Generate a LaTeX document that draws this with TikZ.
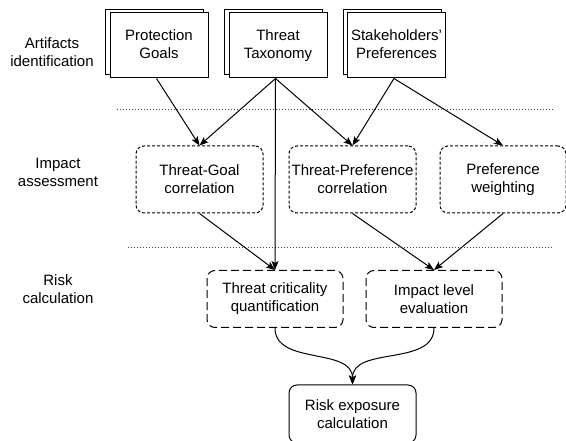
\documentclass[tikz,border=0pt]{standalone}
\usepackage{fontspec}
\setmainfont{Liberation Sans}
\usetikzlibrary{arrows.meta}
\newcommand{\doctext}[2]{\raisebox{6pt}{\begin{tabular}{@{}c@{}}#1\\#2\end{tabular}}}
\begin{document}
\begin{tikzpicture}[x=1pt,y=-1pt,
  every node/.style={font=\fontsize{15}{18}\selectfont, align=center, inner sep=0pt},
  docbox/.style={draw, fill=white, line width=1pt, minimum width=98pt, minimum height=65pt},
  midbox/.style={draw, line width=1pt, rounded corners=8pt, dash pattern=on 3pt off 2pt, minimum width=127pt, minimum height=67pt},
  lowbox/.style={draw, line width=1pt, rounded corners=8pt, dash pattern=on 8pt off 4pt, minimum width=136pt, minimum height=57pt},
  endbox/.style={draw, line width=1pt, rounded corners=8pt, minimum width=127pt, minimum height=58pt},
  sheet/.style={draw, fill=white, line width=1pt},
  sep/.style={black!75, line width=0.8pt, dash pattern=on 1pt off 2pt},
  conn/.style={line width=1pt, -{Stealth[length=9pt,width=7pt,inset=2pt]}},
  lbl/.style={}
]
\useasboundingbox (0,0) rectangle (566,441);
\clip (0,0) rectangle (566,441);

% left labels
\node[lbl] (l1) at (52,52) {Artifacts\\identification};
\node[lbl] (l2) at (58,172.5) {Impact\\assessment};
\node[lbl] (l3) at (58,289) {Risk\\calculation};

% separators
\coordinate (s1a) at (117,109);
\coordinate (s1b) at (553,109);
\coordinate (s2a) at (128,247);
\coordinate (s2b) at (553,247);
\draw[sep] (s1a) -- (s1b);
\draw[sep] (s2a) -- (s2b);

% stacked documents (back sheets)
\draw[sheet] (105,10) rectangle (203,75);
\draw[sheet] (224,10) rectangle (322,75);
\draw[sheet] (343,10) rectangle (441,75);

% top documents (front sheets)
\node[docbox] (pg) at (159,45.5) {\doctext{Protection}{Goals}};
\node[docbox] (tt) at (278,45.5) {\doctext{Threat}{Taxonomy}};
\node[docbox] (sp) at (396.5,45.5) {\doctext{Stakeholders'}{Preferences}};

% impact assessment
\node[midbox] (tg) at (199.5,179.5) {Threat-Goal\\correlation};
\node[midbox] (tp) at (352.5,179.5) {Threat-Preference\\correlation};
\node[midbox, minimum width=126pt] (pw) at (503,179.5) {Preference\\weighting};

% risk calculation
\node[lowbox] (tc) at (275,299) {Threat criticality\\quantification};
\node[lowbox] (il) at (434,299) {Impact level\\evaluation};
\node[endbox] (re) at (352.5,414) {Risk exposure\\calculation};

% connectors
\draw[conn] ([xshift=-2.5pt]pg.south) -- (tg.north);
\draw[conn] ([xshift=-2.5pt]tt.south) -- (tg.north);
\draw[conn] ([xshift=-2.5pt]tt.south) -- (tp.north);
\draw[conn] ([xshift=-2.5pt]tt.south) -- (tc.north);
\draw[conn] ([xshift=-2.5pt]sp.south) -- (tp.north);
\draw[conn] ([xshift=-2.5pt]sp.south) -- (pw.north);
\draw[conn] (tg.south) -- (tc.north);
\draw[conn] (tp.south) -- (il.north);
\draw[conn] (pw.south) -- (il.north);
\draw[conn] (tc.south) to[out=-90,in=90] (re.north);
\draw[conn] (il.south) to[out=-90,in=90] (re.north);
\end{tikzpicture}
\end{document}
